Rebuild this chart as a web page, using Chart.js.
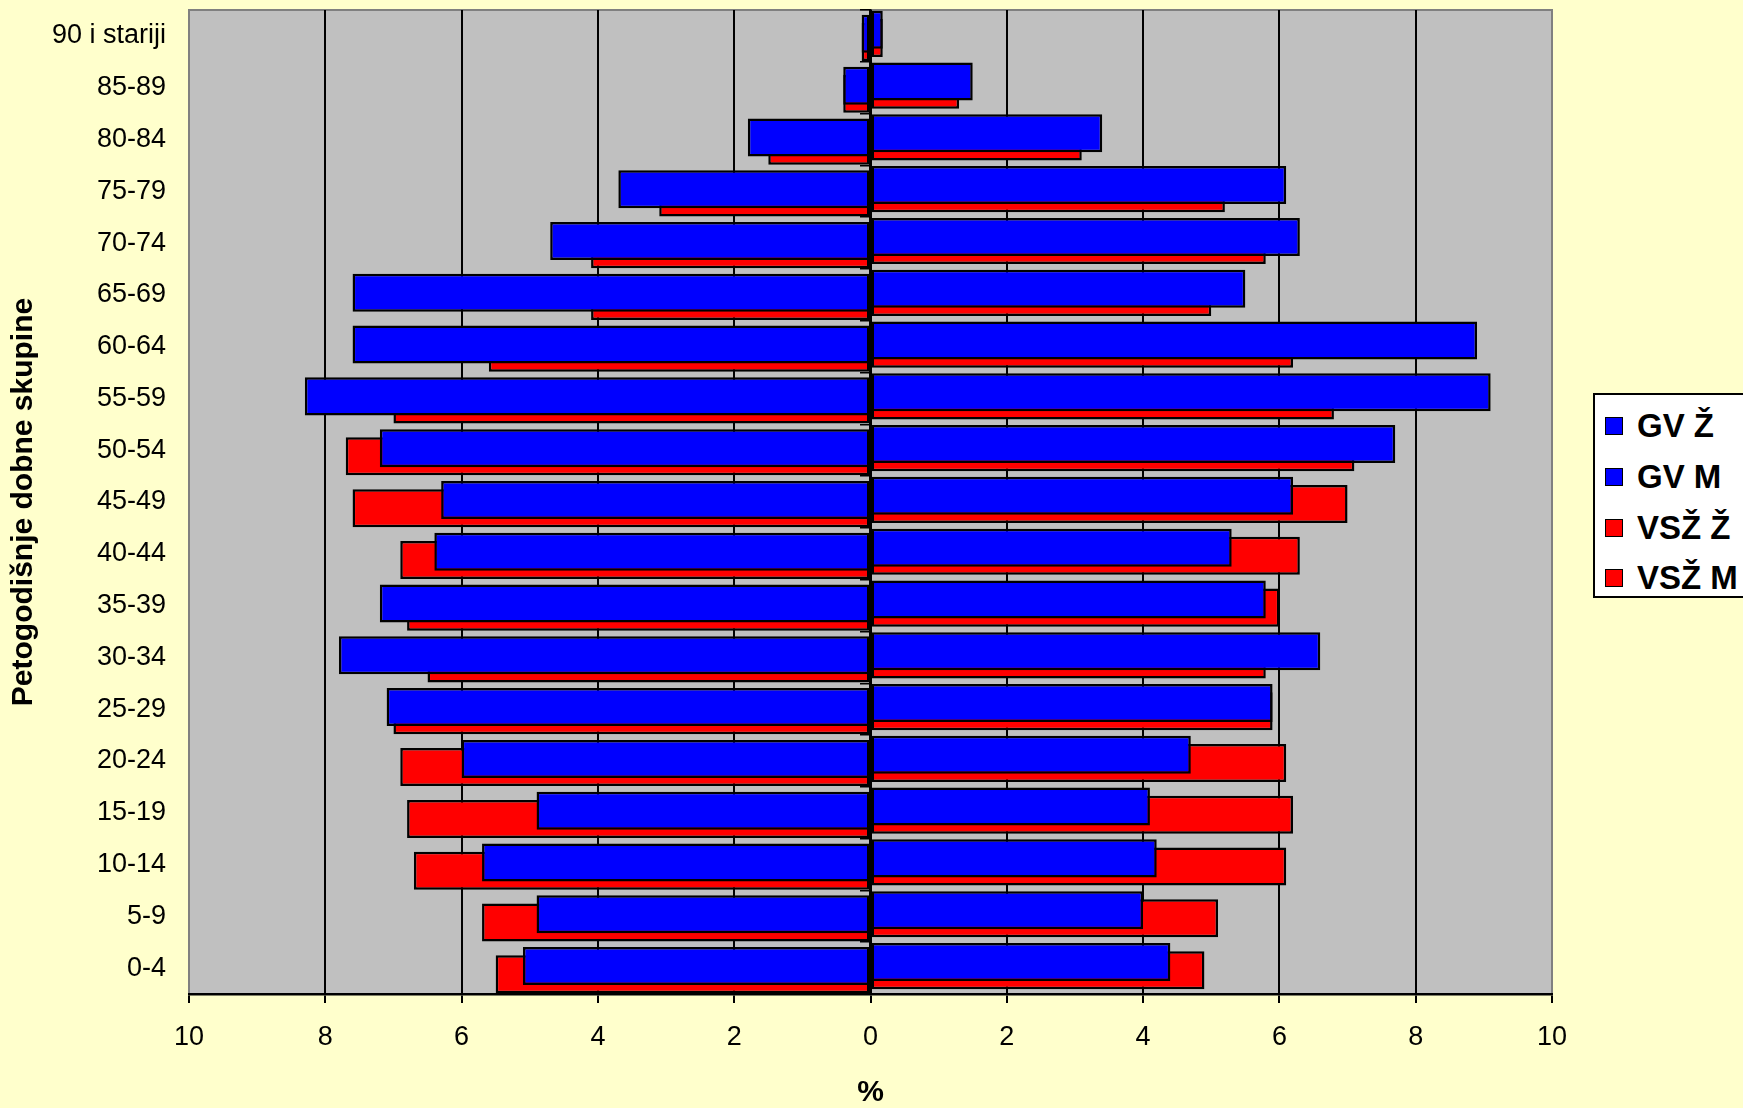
<!DOCTYPE html>
<html>
<head>
<meta charset="utf-8">
<title>Petogodišnje dobne skupine</title>
<script src="https://cdn.jsdelivr.net/npm/chart.js@4"></script>
<style>
  html, body { margin: 0; padding: 0; background: #FFFFCC; overflow: hidden; }
  #wrap { position: relative; width: 1743px; height: 1108px; }
  #legend {
    position: absolute; left: 1593px; top: 393px; width: 170px; height: 205px;
    box-sizing: border-box; border: 2px solid #000; background: #fff;
    padding-top: 6px; font-family: "Liberation Sans", Arial, sans-serif;
  }
  .item { height: 50.7px; display: flex; align-items: center; font-weight: bold; font-size: 33px; color: #000; }
  .box { width: 18px; height: 18px; box-sizing: border-box; border: 1.5px solid #000; margin-left: 10px; margin-right: 14px; }
</style>
</head>
<body>
<div id="wrap">
  <canvas id="grafico"></canvas>
  <div id="legend"></div>
</div>
<script>
// Dobne skupine (odozdo prema gore)
const skupine = ['0-4', '5-9', '10-14', '15-19', '20-24', '25-29', '30-34', '35-39', '40-44',
  '45-49', '50-54', '55-59', '60-64', '65-69', '70-74', '75-79', '80-84', '85-89', '90 i stariji'];

// Udjeli u % (muškarci se crtaju lijevo)
const gvZ  = [4.4, 4.0, 4.2, 4.1, 4.7, 5.9, 6.6, 5.8, 5.3, 6.2, 7.7, 9.1, 8.9, 5.5, 6.3, 6.1, 3.4, 1.5, 0.18];
const gvM  = [5.1, 4.9, 5.7, 4.9, 6.0, 7.1, 7.8, 7.2, 6.4, 6.3, 7.2, 8.3, 7.6, 7.6, 4.7, 3.7, 1.8, 0.4, 0.13];
const vszZ = [4.9, 5.1, 6.1, 6.2, 6.1, 5.9, 5.8, 6.0, 6.3, 7.0, 7.1, 6.8, 6.2, 5.0, 5.8, 5.2, 3.1, 1.3, 0.18];
const vszM = [5.5, 5.7, 6.7, 6.8, 6.9, 7.0, 6.5, 6.8, 6.9, 7.6, 7.7, 7.0, 5.6, 4.1, 4.1, 3.1, 1.5, 0.4, 0.13];

// Oznake osi x (lijevo i desno od nule)
const xTicks = [-10, -8, -6, -4, -2, 0, 2, 4, 6, 8, 10];

const PLAVA = '#0000FF';
const CRVENA = '#FF0000';

Chart.defaults.font.family = '"Liberation Sans", Arial, sans-serif';
Chart.defaults.color = '#000';

// Sivo polje grafa s rubom
const pozadina = {
  id: 'pozadina',
  beforeDraw(chart) {
    const { ctx, chartArea: a } = chart;
    ctx.save();
    ctx.fillStyle = '#C0C0C0';
    ctx.fillRect(a.left, a.top, a.width, a.height);
    ctx.strokeStyle = '#808080';
    ctx.lineWidth = 2;
    ctx.strokeRect(a.left, a.top, a.width, a.height);
    ctx.restore();
  }
};

function stupac(label, data, boja) {
  return { label, data, backgroundColor: boja, borderColor: '#000', borderWidth: 2.5, borderSkipped: false };
}

const chart = new Chart(document.getElementById('grafico'), {
  type: 'bar',
  data: {
    labels: skupine,
    datasets: [
      stupac('GV Ž', gvZ, PLAVA),
      stupac('GV M', gvM.map(v => -v), PLAVA),
      stupac('VSŽ Ž', vszZ, CRVENA),
      stupac('VSŽ M', vszM.map(v => -v), CRVENA)
    ]
  },
  options: {
    indexAxis: 'y',
    responsive: true,
    maintainAspectRatio: false,
    animation: false,
    layout: { padding: { top: 10, right: 191, left: 0, bottom: 0 } },
    datasets: { bar: { categoryPercentage: 0.3167, barPercentage: 9.27 } },
    plugins: { legend: { display: false }, tooltip: { enabled: false } },
    scales: {
      y: {
        type: 'category',
        reverse: true,
        offset: true,
        afterFit: s => { s.width = 189; s.paddingTop = 0; s.paddingBottom = 0; },
        grid: { display: false, drawTicks: false },
        border: { display: true, color: '#808080', width: 2 },
        ticks: { font: { size: 27 }, padding: 23 },
        title: {
          display: true,
          text: 'Petogodišnje dobne skupine',
          font: { size: 30, weight: 'bold' },
          padding: { top: 6, bottom: 0 }
        }
      },
      x: {
        min: -10,
        max: 10,
        afterFit: s => { s.height = 114; },
        afterBuildTicks: s => { s.ticks = xTicks.map(v => ({ value: v })); },
        ticks: { font: { size: 27 }, padding: 18, callback: v => Math.abs(v) },
        grid: {
          color: c => (c.tick && Math.abs(c.tick.value) === 10 ? 'rgba(0,0,0,0)' : '#000'),
          tickColor: '#000',
          lineWidth: 2,
          drawTicks: true,
          tickLength: 9
        },
        border: { display: true, color: '#000', width: 2.5 },
        title: {
          display: true,
          text: '%',
          font: { size: 30, weight: 'bold', lineHeight: 1 },
          padding: { top: 0, bottom: 0 }
        }
      },
      // os kategorija na nuli (samo crtica i oznake)
      y2: {
        type: 'category',
        position: { x: 0 },
        reverse: true,
        offset: true,
        afterFit: s => { s.paddingTop = 0; s.paddingBottom = 0; },
        ticks: { display: false },
        grid: { drawOnChartArea: false, drawTicks: true, tickLength: 9, color: '#000', lineWidth: 1.5 },
        border: { display: true, color: '#000', width: 2.5 }
      }
    }
  },
  plugins: [pozadina]
});

// Legenda
const legenda = document.getElementById('legend');
chart.data.datasets.forEach(ds => {
  const red = document.createElement('div');
  red.className = 'item';
  red.innerHTML = `<span class="box" style="background:${ds.backgroundColor}"></span><span>${ds.label}</span>`;
  legenda.appendChild(red);
});
</script>
</body>
</html>
